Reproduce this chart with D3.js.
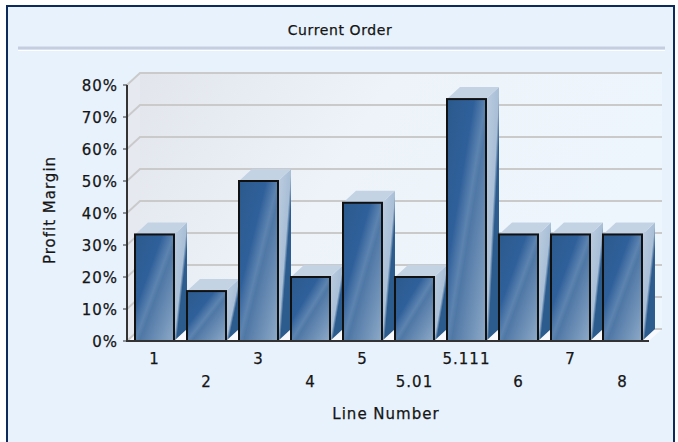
<!DOCTYPE html>
<html>
<head>
<meta charset="utf-8">
<script src="https://cdn.jsdelivr.net/npm/d3@7"></script>
<style>
  body { margin: 0; background: #fff; }
  text { font-family: "DejaVu Sans", Verdana, sans-serif; fill: #151515; stroke: #151515; stroke-width: 0.25px; }
</style>
</head>
<body>
<div id="chart-area"></div>
<script>
// data
var lineNumbers = ["1", "2", "3", "4", "5", "5.01", "5.111", "6", "7", "8"];
var profitMargin = [33.3, 15.6, 50, 20, 43.2, 20, 75.6, 33.3, 33.3, 33.3];
var yTicks = [0, 10, 20, 30, 40, 50, 60, 70, 80];

var width = 678, height = 442;
var depthX = 13, depthY = -12;

var svg = d3.select("#chart-area").append("svg")
    .attr("width", width)
    .attr("height", height);

var defs = svg.append("defs");

var g1 = defs.append("linearGradient").attr("id", "front")
    .attr("x1", 0).attr("y1", 0).attr("x2", 1).attr("y2", 1);
g1.append("stop").attr("offset", "0").attr("stop-color", "#2a5a8c");
g1.append("stop").attr("offset", "0.35").attr("stop-color", "#30609a");
g1.append("stop").attr("offset", "0.5").attr("stop-color", "#5d84b0");
g1.append("stop").attr("offset", "0.56").attr("stop-color", "#5078a6");
g1.append("stop").attr("offset", "1").attr("stop-color", "#8eaac8");

var g2 = defs.append("linearGradient").attr("id", "side")
    .attr("x1", 0).attr("y1", 0).attr("x2", 1).attr("y2", 1);
g2.append("stop").attr("offset", "0").attr("stop-color", "#bccde0");
g2.append("stop").attr("offset", "0.5").attr("stop-color", "#a9bfd6");
g2.append("stop").attr("offset", "0.6").attr("stop-color", "#2c5b8d");
g2.append("stop").attr("offset", "1").attr("stop-color", "#2c5b8d");

var g3 = defs.append("linearGradient").attr("id", "wall")
    .attr("x1", 0).attr("y1", 0).attr("x2", 1).attr("y2", 0.3);
g3.append("stop").attr("offset", "0").attr("stop-color", "#e2e6ec");
g3.append("stop").attr("offset", "0.45").attr("stop-color", "#edf3f9");
g3.append("stop").attr("offset", "1").attr("stop-color", "#eef6fd");

// panel
svg.append("rect")
    .attr("x", 7).attr("y", 6)
    .attr("width", 667).attr("height", 440)
    .attr("fill", "#e8f2fc")
    .attr("stroke", "#0c2a5c")
    .attr("stroke-width", 2);

svg.append("text")
    .attr("x", 340).attr("y", 35)
    .attr("text-anchor", "middle")
    .style("font-size", "14px")
    .style("letter-spacing", "0.6px")
    .text("Current Order");

svg.append("line")
    .attr("x1", 18).attr("x2", 665).attr("y1", 48).attr("y2", 48)
    .attr("stroke", "#c5cedf").attr("stroke-width", 3);
svg.append("line")
    .attr("x1", 18).attr("x2", 665).attr("y1", 50.5).attr("y2", 50.5)
    .attr("stroke", "#ffffff").attr("stroke-width", 1);

var x = d3.scaleBand()
    .domain(lineNumbers)
    .range([127, 650])
    .paddingInner(0.25)
    .paddingOuter(0.154);

var y = d3.scaleLinear()
    .domain([0, 80])
    .range([341, 85]);

var x0 = 127, x1 = 649;

// back wall, side wall, floor
svg.append("rect")
    .attr("x", x0 + depthX).attr("y", y(80) + depthY)
    .attr("width", 662 - x0 - depthX).attr("height", y(0) - y(80))
    .attr("fill", "url(#wall)");
svg.append("path")
    .attr("d", "M" + x0 + "," + y(80) + "L" + (x0 + depthX) + "," + (y(80) + depthY) +
        "L" + (x0 + depthX) + "," + (y(0) + depthY) + "L" + x0 + "," + y(0) + "Z")
    .attr("fill", "#e6eaf0");
svg.append("path")
    .attr("d", "M" + x0 + "," + y(0) + "L" + (x0 + depthX) + "," + (y(0) + depthY) +
        "L662," + (y(0) + depthY) + "L" + x1 + "," + y(0) + "Z")
    .attr("fill", "#f7f9fc");

// gridlines
svg.selectAll(".grid")
    .data(yTicks)
    .enter().append("path")
    .attr("class", "grid")
    .attr("d", function(d) {
        return "M" + x0 + "," + y(d) + "L" + (x0 + depthX) + "," + (y(d) + depthY) + "L662," + (y(d) + depthY);
    })
    .attr("fill", "none")
    .attr("stroke", "#cacaca")
    .attr("stroke-width", 2);

// bars
var bars = svg.selectAll(".bar")
    .data(lineNumbers)
    .enter().append("g")
    .attr("class", "bar");

var w = x.bandwidth();

bars.append("path")
    .attr("d", function(d, i) {
        var bx = x(d) + w, top = y(profitMargin[i]), bot = y(0);
        return "M" + bx + "," + top + "L" + (bx + depthX) + "," + (top + depthY) +
            "L" + (bx + depthX) + "," + (bot + depthY) + "L" + bx + "," + bot + "Z";
    })
    .attr("fill", "url(#side)");

bars.append("path")
    .attr("d", function(d, i) {
        var bx = x(d), top = y(profitMargin[i]);
        return "M" + bx + "," + top + "L" + (bx + depthX) + "," + (top + depthY) +
            "L" + (bx + w + depthX) + "," + (top + depthY) + "L" + (bx + w) + "," + top + "Z";
    })
    .attr("fill", "#c3d3e4");

bars.append("rect")
    .attr("x", function(d) { return x(d); })
    .attr("y", function(d, i) { return y(profitMargin[i]); })
    .attr("width", w)
    .attr("height", function(d, i) { return y(0) - y(profitMargin[i]); })
    .attr("fill", "url(#front)")
    .attr("stroke", "#111")
    .attr("stroke-width", 2);

// axes
svg.append("line")
    .attr("x1", x0).attr("x2", x0).attr("y1", y(80)).attr("y2", y(0))
    .attr("stroke", "#333").attr("stroke-width", 2);
svg.append("line")
    .attr("x1", x0 - 1).attr("x2", x1).attr("y1", y(0)).attr("y2", y(0))
    .attr("stroke", "#333").attr("stroke-width", 2);

svg.selectAll(".ytick")
    .data(yTicks)
    .enter().append("line")
    .attr("x1", x0 - 4).attr("x2", x0)
    .attr("y1", function(d) { return y(d); })
    .attr("y2", function(d) { return y(d); })
    .attr("stroke", "#333").attr("stroke-width", 1);

svg.selectAll(".ylabel")
    .data(yTicks)
    .enter().append("text")
    .attr("x", 118)
    .attr("y", function(d) { return y(d) + 5.5; })
    .attr("text-anchor", "end")
    .style("font-size", "15px")
    .style("letter-spacing", "1px")
    .text(function(d) { return d + "%"; });

svg.selectAll(".xlabel")
    .data(lineNumbers)
    .enter().append("text")
    .attr("x", function(d) { return x(d) + w / 2; })
    .attr("y", function(d, i) { return i % 2 === 0 ? 364 : 387; })
    .attr("text-anchor", "middle")
    .style("font-size", "15px")
    .style("letter-spacing", "1px")
    .text(function(d) { return d; });

svg.append("text")
    .attr("x", 386).attr("y", 419)
    .attr("text-anchor", "middle")
    .style("font-size", "15px")
    .style("letter-spacing", "1px")
    .text("Line Number");

svg.append("text")
    .attr("transform", "translate(55,210) rotate(-90)")
    .attr("text-anchor", "middle")
    .style("font-size", "15px")
    .style("letter-spacing", "1px")
    .text("Profit Margin");
</script>
</body>
</html>
